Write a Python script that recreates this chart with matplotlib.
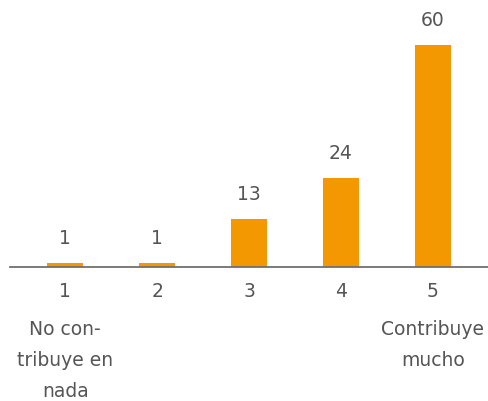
import matplotlib.pyplot as plt
import matplotlib.transforms as mtransforms

categories = ['1', '2', '3', '4', '5']
values = [1, 1, 13, 24, 60]
descriptions = ['No con-\ntribuye en\nnada', '', '', '', 'Contribuye\nmucho']

BAR_COLOR = '#f39800'
TEXT_COLOR = '#555555'

plt.rcParams['font.family'] = ['DejaVu Sans']

fig = plt.figure(figsize=(4.88, 4.01), dpi=100)
ax = fig.add_axes([10 / 488, (401 - 266.5) / 401, 478 / 488, 266.5 / 401])

x = range(len(categories))
ax.bar(x, values, width=36 / 92, color=BAR_COLOR, zorder=2)

ax.set_xlim(-0.6, 4.6)
ax.set_ylim(0, 72.2)

for xi, v in zip(x, values):
    ax.annotate(str(v), (xi, v), xytext=(0, 10.5), textcoords='offset points',
                ha='center', va='bottom', fontsize=13.5, color=TEXT_COLOR)

# axis styling: only the baseline is kept
for side in ['top', 'right', 'left']:
    ax.spines[side].set_visible(False)
ax.spines['bottom'].set_color('#707070')
ax.spines['bottom'].set_linewidth(1.3)
ax.set_yticks([])
ax.set_xticks(list(x))
ax.set_xticklabels(categories, fontsize=13.5, color=TEXT_COLOR)
ax.tick_params(axis='x', length=0, pad=11)

trans = mtransforms.blended_transform_factory(ax.transData, fig.transFigure)
for xi, d in zip(x, descriptions):
    if d:
        ax.text(xi, 1 - 320 / 401, d, transform=trans, ha='center', va='top',
                fontsize=13.5, color=TEXT_COLOR, linespacing=1.8)

fig.savefig('out.png', dpi=100)
